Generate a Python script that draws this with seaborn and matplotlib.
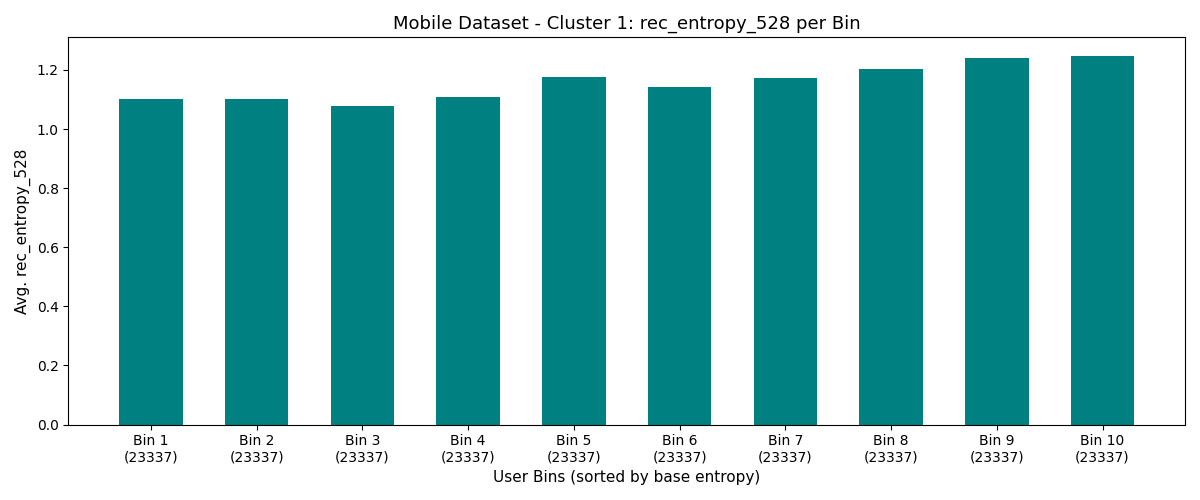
import matplotlib
matplotlib.use("Agg")
import matplotlib.pyplot as plt
import seaborn as sns
import pandas as pd

bins = [f"Bin {i}" for i in range(1, 11)]
counts = [23337] * 10
values = [1.103, 1.103, 1.079, 1.110, 1.177, 1.143, 1.174, 1.204, 1.242, 1.248]

labels = [f"{b}\n({c})" for b, c in zip(bins, counts)]
df = pd.DataFrame({"bin": labels, "value": values})

fig, ax = plt.subplots(figsize=(12, 5), dpi=100)
sns.barplot(data=df, x="bin", y="value", color="teal", saturation=1, width=0.6, ax=ax)
ax.set_title("Mobile Dataset - Cluster 1: rec_entropy_528 per Bin", fontsize=13)
ax.set_xlabel("User Bins (sorted by base entropy)", fontsize=11)
ax.set_ylabel("Avg. rec_entropy_528", fontsize=11)
# same 5% side margin as a plain plt.bar
ax.set_xlim(-0.78, 9.78)
plt.tight_layout()
plt.savefig("out.png", dpi=100)
